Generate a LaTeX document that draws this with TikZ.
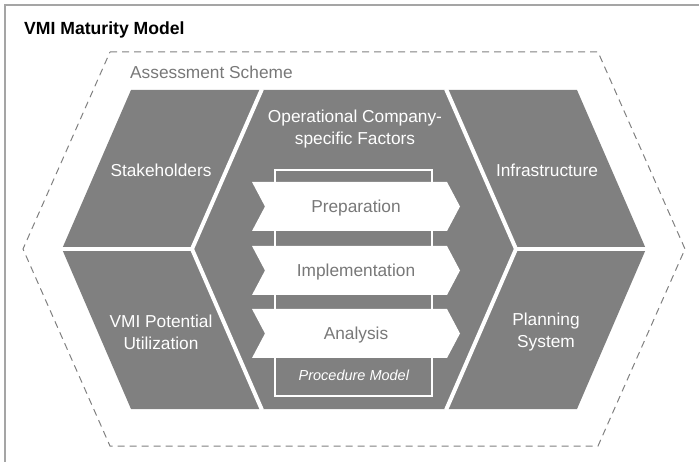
\documentclass[tikz,border=0pt]{standalone}
\usepackage{fontspec}
\setmainfont{Liberation Sans}

\definecolor{blockgray}{RGB}{128,128,128}
\definecolor{framegray}{RGB}{165,165,165}
\definecolor{labelgray}{RGB}{120,120,120}

\begin{document}
\begin{tikzpicture}[x=1pt,y=-1pt]
    \pgfmathsetmacro{\hextop}{90}
    \pgfmathsetmacro{\hexbottom}{409}
    \pgfmathsetmacro{\hexmid}{249}
    \pgfmathsetmacro{\arrowheight}{49}
    \pgfmathsetmacro{\gapwidth}{4}
    % \pgfmathsetmacro{\dashlength}{8}
    \providecommand{\titlefontsize}{\fontsize{17.6pt}{20pt}\selectfont}
    \providecommand{\blockfontsize}{\fontsize{17.3pt}{22pt}\selectfont}
    \providecommand{\notefontsize}{\fontsize{14.5pt}{17pt}\selectfont}
    \useasboundingbox (0,0) rectangle (699,462);
    \draw[framegray,line width=1.5pt] (5,462) -- (5,5) -- (699,5);
    \node[anchor=west,inner sep=0,font=\titlefontsize] (title) at (24,30) {\textbf{VMI Maturity Model}};
    \draw[blockgray,line width=1pt,dash pattern=on 7pt off 5pt] (110,52) -- (598,52) -- (685,\hexmid) -- (598,446) -- (110,446) -- (23,\hexmid) -- cycle;
    \node[anchor=west,inner sep=0,text=labelgray,font=\blockfontsize] (scheme) at (130,72) {Assessment Scheme};
    \fill[blockgray] (131,\hextop) -- (577,\hextop) -- (646,\hexmid) -- (577,\hexbottom) -- (131,\hexbottom) -- (62,\hexmid) -- cycle;
    \draw[white,line width=\gapwidth pt] (262,\hextop-1) -- (192,\hexmid) -- (262,\hexbottom+1);
    \draw[white,line width=\gapwidth pt] (446,\hextop-1) -- (516,\hexmid) -- (446,\hexbottom+1);
    \draw[white,line width=\gapwidth pt] (55,\hexmid) -- (192,\hexmid) (516,\hexmid) -- (653,\hexmid);
    \node[text=white,align=center,font=\blockfontsize] (stake) at (161,170) {Stakeholders};
    \node[text=white,align=center,font=\blockfontsize] (infra) at (547,170) {Infrastructure};
    \node[text=white,align=center,font=\blockfontsize] (potential) at (161,332) {VMI Potential\\Utilization};
    \node[text=white,align=center,font=\blockfontsize] (planning) at (546,332) {Planning\\System};
    \node[text=white,align=center,font=\blockfontsize] (factors) at (355,129) {Operational Company-\\specific Factors};
    \draw[white,line width=1.5pt] (275,170) rectangle (432,396);
    \foreach \stepname/\steptext/\stepy in {prep/Preparation/182,impl/Implementation/246,anal/Analysis/309}
    {
        \fill[white] (252,\stepy) -- (447,\stepy) -- (460,\stepy+\arrowheight/2) -- (447,\stepy+\arrowheight) -- (252,\stepy+\arrowheight) -- (265,\stepy+\arrowheight/2) -- cycle;
        \node[text=labelgray,font=\blockfontsize,yshift=-1.5pt] (\stepname) at (356,\stepy+\arrowheight/2) {\steptext};
    }
    \node[text=white,font=\notefontsize] (procedure) at (354,375) {\textit{Procedure Model}};
\end{tikzpicture}
\end{document}
